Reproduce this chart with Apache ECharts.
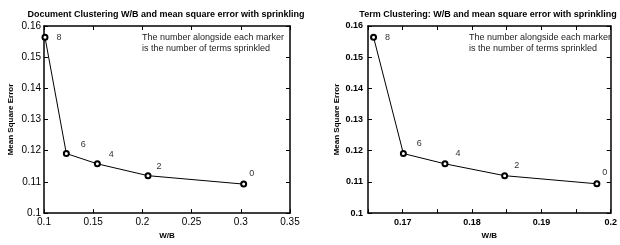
<!DOCTYPE html>
<html>
<head>
<meta charset="utf-8">
<script src="https://cdn.jsdelivr.net/npm/echarts@6/dist/echarts.min.js"></script>
<style>
  html, body { margin: 0; padding: 0; background: #fff; }
  #chart { width: 620px; height: 245px; }
</style>
</head>
<body>
<div id="chart"></div>
<script>
// terms sprinkled at each marker
const sprinkled = ['8', '6', '4', '2', '0']

// Document clustering
const docWB = [0.101, 0.1227, 0.1542, 0.2057, 0.3029]
const docMSE = [0.1564, 0.1191, 0.1158, 0.1120, 0.1093]

// Term clustering
const termWB = [0.1658, 0.1701, 0.1761, 0.1847, 0.1980]
const termMSE = [0.1564, 0.1191, 0.1158, 0.1120, 0.1094]

const docTitle = 'Document Clustering W/B and mean square error with sprinkling'
const termTitle = 'Term Clustering: W/B and mean square error with sprinkling'
const note = 'The number alongside each marker\nis the number of terms sprinkled'

// label offsets (px) next to each marker
const docOffsets = [[6, 0], [9, -9], [6, -9], [3, -9], [0, -11]]
const termOffsets = [[6, 0], [8, -10], [5, -10], [4, -10], [0, -11]]

const FONT = 'Liberation Sans, Arial, Helvetica, sans-serif'

const chart = echarts.init(document.getElementById('chart'))

function pts(xs, ys, offs) {
  return xs.map((x, i) => ({
    value: [x, ys[i]],
    label: { offset: offs[i] }
  }))
}

function axisBase(extra) {
  return Object.assign({
    type: 'value',
    axisLine: { show: true, onZero: false, lineStyle: { color: '#000', width: 1.5 } },
    axisTick: { show: true, inside: true, length: 4, lineStyle: { color: '#000' } },
    splitLine: { show: false },
  }, extra)
}

const hidden = { show: false }

function lineSeries(xi, yi, data) {
  return {
    type: 'line',
    xAxisIndex: xi,
    yAxisIndex: yi,
    data,
    symbol: 'emptyCircle',
    symbolSize: 5,
    lineStyle: { color: '#000', width: 1 },
    itemStyle: { color: '#000', borderColor: '#222', borderWidth: 0.8 },
    label: {
      show: true,
      position: 'right',
      distance: 2,
      color: '#333',
      fontSize: 9,
      fontFamily: FONT,
      formatter: p => sprinkled[p.dataIndex]
    },
    animation: false,
    z: 5
  }
}

const termXFormatter = v => {
  const k = Math.round(v * 1000)
  if (k % 10 !== 0 || k < 170) return ''
  return String(+v.toFixed(2))
}

const titleStyle = { fontSize: 9, fontWeight: 'bold', color: '#000', fontFamily: FONT }
const noteStyle = { fontSize: 9, fontWeight: 'normal', color: '#222', fontFamily: FONT, lineHeight: 11 }

chart.setOption({
  animation: false,
  title: [
    { text: docTitle, left: 166, top: 10, padding: 0, textAlign: 'center', textStyle: titleStyle },
    { text: termTitle, left: 488, top: 10, padding: 0, textAlign: 'center', textStyle: titleStyle },
    { text: note, left: 142, top: 32, padding: 0, textStyle: noteStyle },
    { text: note, left: 469, top: 32, padding: 0, textStyle: noteStyle },
  ],
  grid: [
    { left: 44, top: 26, width: 246, height: 193 },
    { left: 368, top: 26, width: 245, height: 193 },
  ],
  xAxis: [
    axisBase({
      gridIndex: 0, position: 'bottom', min: 0.1, max: 0.35, interval: 0.05,
      axisLabel: { color: '#000', fontSize: 10, fontFamily: FONT, margin: 4 },
      name: 'W/B', nameLocation: 'middle', nameGap: 16,
      nameTextStyle: { fontSize: 8, fontWeight: 'bold', color: '#000', fontFamily: FONT }
    }),
    axisBase({ gridIndex: 0, position: 'top', min: 0.1, max: 0.35, interval: 0.05, axisLabel: hidden }),
    axisBase({
      gridIndex: 1, position: 'bottom', min: 0.165, max: 0.2, interval: 0.005,
      axisLabel: { color: '#000', fontSize: 9, fontWeight: 'bold', fontFamily: FONT, margin: 5,
        formatter: termXFormatter, showMinLabel: true, showMaxLabel: true },
      name: 'W/B', nameLocation: 'middle', nameGap: 17,
      nameTextStyle: { fontSize: 8, fontWeight: 'bold', color: '#000', fontFamily: FONT }
    }),
    axisBase({ gridIndex: 1, position: 'top', min: 0.165, max: 0.2, interval: 0.005, axisLabel: hidden }),
  ],
  yAxis: [
    axisBase({
      gridIndex: 0, position: 'left', min: 0.1, max: 0.16, interval: 0.01,
      axisLabel: { color: '#000', fontSize: 10, fontFamily: FONT, margin: 3 },
      name: 'Mean Square Error', nameLocation: 'middle', nameGap: 29,
      nameTextStyle: { fontSize: 8, fontWeight: 'bold', color: '#000', fontFamily: FONT }
    }),
    axisBase({ gridIndex: 0, position: 'right', min: 0.1, max: 0.16, interval: 0.01, axisLabel: hidden }),
    axisBase({
      gridIndex: 1, position: 'left', min: 0.1, max: 0.16, interval: 0.01,
      axisLabel: { color: '#000', fontSize: 9, fontWeight: 'bold', fontFamily: FONT, margin: 5 },
      name: 'Mean Square Error', nameLocation: 'middle', nameGap: 27,
      nameTextStyle: { fontSize: 8, fontWeight: 'bold', color: '#000', fontFamily: FONT }
    }),
    axisBase({ gridIndex: 1, position: 'right', min: 0.1, max: 0.16, interval: 0.01, axisLabel: hidden }),
  ],
  series: [
    lineSeries(0, 0, pts(docWB, docMSE, docOffsets)),
    lineSeries(2, 2, pts(termWB, termMSE, termOffsets)),
  ]
})
</script>
</body>
</html>
